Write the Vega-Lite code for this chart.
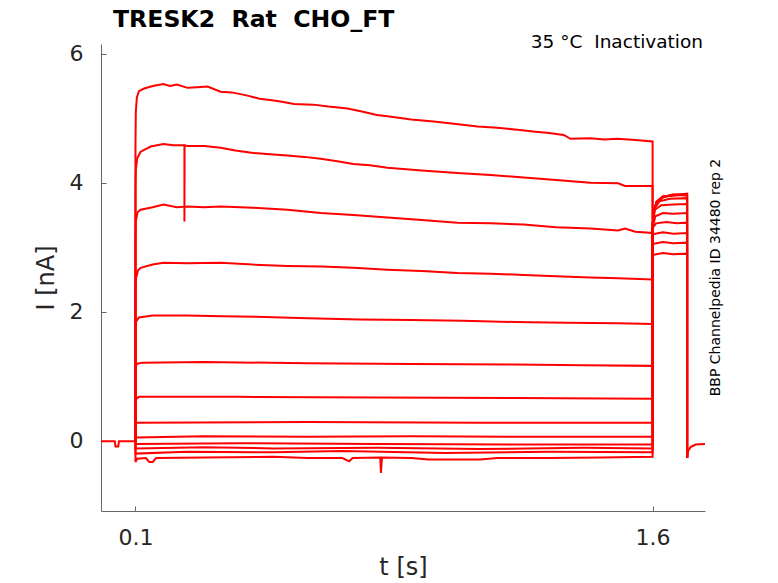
{
"$schema":"https://vega.github.io/schema/vega-lite/v6.json",
"width":604,"height":467,
"autosize":{"type":"none"},
"padding":{"left":101,"top":44,"right":73,"bottom":72},
"background":"white",
"title":{"text":"TRESK2\u00a0\u00a0Rat\u00a0\u00a0CHO_FT","anchor":"start","frame":"group","dx":12,"dy":13,"offset":14,"fontSize":23.6,"font":"DejaVu Sans","fontWeight":"bold","color":"black"},
"config":{"view":{"stroke":null},"axis":{"grid":false,"domainColor":"#666666","tickColor":"#666666","labelColor":"#262626","titleColor":"#262626","labelFont":"DejaVu Sans","titleFont":"DejaVu Sans","titleFontWeight":"normal","labelFontSize":22,"titleFontSize":24,"tickSize":-5}},
"layer":[
{"data":{"values":[
{"k":"pre","t":0,"i":-0.01},{"k":"pre","t":0.04,"i":-0.01},{"k":"pre","t":0.042,"i":-0.09},{"k":"pre","t":0.05,"i":-0.09},{"k":"pre","t":0.052,"i":-0.01},{"k":"pre","t":0.1,"i":-0.01},
{"k":"post","t":1.7,"i":-0.27},{"k":"post","t":1.703,"i":-0.16},{"k":"post","t":1.71,"i":-0.1},{"k":"post","t":1.725,"i":-0.06},{"k":"post","t":1.752,"i":-0.05},
{"k":"1","t":0.1,"i":-0.01},{"k":"1","t":0.1,"i":4.6},{"k":"1","t":0.101,"i":5.1},{"k":"1","t":0.104,"i":5.32},{"k":"1","t":0.11,"i":5.42},{"k":"1","t":0.125,"i":5.46},{"k":"1","t":0.15,"i":5.5},{"k":"1","t":0.181,"i":5.53},{"k":"1","t":0.2,"i":5.5},{"k":"1","t":0.22,"i":5.52},{"k":"1","t":0.251,"i":5.47},{"k":"1","t":0.28,"i":5.48},{"k":"1","t":0.309,"i":5.49},{"k":"1","t":0.347,"i":5.41},{"k":"1","t":0.38,"i":5.4},{"k":"1","t":0.425,"i":5.35},{"k":"1","t":0.46,"i":5.3},{"k":"1","t":0.49,"i":5.28},{"k":"1","t":0.521,"i":5.26},{"k":"1","t":0.56,"i":5.22},{"k":"1","t":0.616,"i":5.21},{"k":"1","t":0.66,"i":5.18},{"k":"1","t":0.715,"i":5.15},{"k":"1","t":0.76,"i":5.1},{"k":"1","t":0.8,"i":5.05},{"k":"1","t":0.831,"i":5.03},{"k":"1","t":0.9,"i":4.98},{"k":"1","t":0.965,"i":4.95},{"k":"1","t":1.03,"i":4.91},{"k":"1","t":1.092,"i":4.87},{"k":"1","t":1.15,"i":4.85},{"k":"1","t":1.208,"i":4.82},{"k":"1","t":1.26,"i":4.79},{"k":"1","t":1.3,"i":4.77},{"k":"1","t":1.342,"i":4.74},{"k":"1","t":1.362,"i":4.68},{"k":"1","t":1.42,"i":4.69},{"k":"1","t":1.46,"i":4.67},{"k":"1","t":1.498,"i":4.68},{"k":"1","t":1.55,"i":4.66},{"k":"1","t":1.6,"i":4.64},{"k":"1","t":1.6,"i":2.88},{"k":"1","t":1.63,"i":2.91},{"k":"1","t":1.66,"i":2.89},{"k":"1","t":1.7,"i":2.9},{"k":"1","t":1.7,"i":-0.27},
{"k":"2","t":0.1,"i":-0.01},{"k":"2","t":0.1,"i":3.9},{"k":"2","t":0.101,"i":4.2},{"k":"2","t":0.105,"i":4.38},{"k":"2","t":0.115,"i":4.48},{"k":"2","t":0.144,"i":4.56},{"k":"2","t":0.181,"i":4.6},{"k":"2","t":0.21,"i":4.58},{"k":"2","t":0.242,"i":4.58},{"k":"2","t":0.242,"i":3.4},{"k":"2","t":0.2425,"i":4.58},{"k":"2","t":0.251,"i":4.57},{"k":"2","t":0.3,"i":4.57},{"k":"2","t":0.347,"i":4.54},{"k":"2","t":0.39,"i":4.5},{"k":"2","t":0.442,"i":4.46},{"k":"2","t":0.49,"i":4.44},{"k":"2","t":0.541,"i":4.42},{"k":"2","t":0.59,"i":4.4},{"k":"2","t":0.637,"i":4.37},{"k":"2","t":0.69,"i":4.33},{"k":"2","t":0.732,"i":4.29},{"k":"2","t":0.78,"i":4.27},{"k":"2","t":0.831,"i":4.23},{"k":"2","t":0.93,"i":4.19},{"k":"2","t":1.034,"i":4.15},{"k":"2","t":1.13,"i":4.12},{"k":"2","t":1.226,"i":4.08},{"k":"2","t":1.32,"i":4.04},{"k":"2","t":1.42,"i":4.0},{"k":"2","t":1.5,"i":3.99},{"k":"2","t":1.52,"i":3.95},{"k":"2","t":1.6,"i":3.95},{"k":"2","t":1.6,"i":3.05},{"k":"2","t":1.63,"i":3.08},{"k":"2","t":1.66,"i":3.06},{"k":"2","t":1.7,"i":3.07},{"k":"2","t":1.7,"i":-0.27},
{"k":"3","t":0.1,"i":-0.01},{"k":"3","t":0.1,"i":3.1},{"k":"3","t":0.101,"i":3.4},{"k":"3","t":0.106,"i":3.54},{"k":"3","t":0.115,"i":3.58},{"k":"3","t":0.15,"i":3.62},{"k":"3","t":0.181,"i":3.66},{"k":"3","t":0.22,"i":3.62},{"k":"3","t":0.251,"i":3.63},{"k":"3","t":0.3,"i":3.62},{"k":"3","t":0.347,"i":3.63},{"k":"3","t":0.442,"i":3.61},{"k":"3","t":0.541,"i":3.58},{"k":"3","t":0.637,"i":3.53},{"k":"3","t":0.732,"i":3.5},{"k":"3","t":0.831,"i":3.46},{"k":"3","t":0.93,"i":3.42},{"k":"3","t":1.034,"i":3.38},{"k":"3","t":1.13,"i":3.37},{"k":"3","t":1.226,"i":3.35},{"k":"3","t":1.32,"i":3.31},{"k":"3","t":1.42,"i":3.29},{"k":"3","t":1.5,"i":3.26},{"k":"3","t":1.52,"i":3.29},{"k":"3","t":1.55,"i":3.24},{"k":"3","t":1.6,"i":3.22},{"k":"3","t":1.6,"i":3.2},{"k":"3","t":1.63,"i":3.23},{"k":"3","t":1.66,"i":3.21},{"k":"3","t":1.7,"i":3.22},{"k":"3","t":1.7,"i":-0.27},
{"k":"4","t":0.1,"i":-0.01},{"k":"4","t":0.1,"i":2.3},{"k":"4","t":0.101,"i":2.5},{"k":"4","t":0.107,"i":2.64},{"k":"4","t":0.115,"i":2.68},{"k":"4","t":0.15,"i":2.73},{"k":"4","t":0.181,"i":2.76},{"k":"4","t":0.25,"i":2.75},{"k":"4","t":0.347,"i":2.76},{"k":"4","t":0.44,"i":2.73},{"k":"4","t":0.541,"i":2.71},{"k":"4","t":0.64,"i":2.7},{"k":"4","t":0.732,"i":2.68},{"k":"4","t":0.831,"i":2.65},{"k":"4","t":0.93,"i":2.63},{"k":"4","t":1.034,"i":2.6},{"k":"4","t":1.13,"i":2.59},{"k":"4","t":1.226,"i":2.57},{"k":"4","t":1.32,"i":2.55},{"k":"4","t":1.42,"i":2.53},{"k":"4","t":1.5,"i":2.52},{"k":"4","t":1.6,"i":2.5},{"k":"4","t":1.6,"i":3.3},{"k":"4","t":1.61,"i":3.37},{"k":"4","t":1.64,"i":3.39},{"k":"4","t":1.67,"i":3.37},{"k":"4","t":1.7,"i":3.38},{"k":"4","t":1.7,"i":-0.27},
{"k":"5","t":0.1,"i":-0.01},{"k":"5","t":0.1,"i":1.7},{"k":"5","t":0.102,"i":1.85},{"k":"5","t":0.11,"i":1.91},{"k":"5","t":0.15,"i":1.94},{"k":"5","t":0.25,"i":1.94},{"k":"5","t":0.35,"i":1.93},{"k":"5","t":0.45,"i":1.92},{"k":"5","t":0.6,"i":1.9},{"k":"5","t":0.75,"i":1.88},{"k":"5","t":0.9,"i":1.87},{"k":"5","t":1.05,"i":1.86},{"k":"5","t":1.2,"i":1.84},{"k":"5","t":1.35,"i":1.83},{"k":"5","t":1.5,"i":1.82},{"k":"5","t":1.6,"i":1.81},{"k":"5","t":1.6,"i":3.3},{"k":"5","t":1.608,"i":3.48},{"k":"5","t":1.63,"i":3.53},{"k":"5","t":1.66,"i":3.52},{"k":"5","t":1.7,"i":3.53},{"k":"5","t":1.7,"i":-0.27},
{"k":"6","t":0.1,"i":-0.01},{"k":"6","t":0.1,"i":1.1},{"k":"6","t":0.103,"i":1.19},{"k":"6","t":0.12,"i":1.21},{"k":"6","t":0.3,"i":1.22},{"k":"6","t":0.6,"i":1.2},{"k":"6","t":0.9,"i":1.19},{"k":"6","t":1.2,"i":1.18},{"k":"6","t":1.4,"i":1.17},{"k":"6","t":1.6,"i":1.16},{"k":"6","t":1.6,"i":3.35},{"k":"6","t":1.607,"i":3.58},{"k":"6","t":1.625,"i":3.65},{"k":"6","t":1.66,"i":3.66},{"k":"6","t":1.7,"i":3.67},{"k":"6","t":1.7,"i":-0.27},
{"k":"7","t":0.1,"i":-0.01},{"k":"7","t":0.1,"i":0.64},{"k":"7","t":0.11,"i":0.68},{"k":"7","t":0.4,"i":0.68},{"k":"7","t":0.8,"i":0.67},{"k":"7","t":1.2,"i":0.66},{"k":"7","t":1.6,"i":0.65},{"k":"7","t":1.6,"i":3.35},{"k":"7","t":1.605,"i":3.6},{"k":"7","t":1.62,"i":3.71},{"k":"7","t":1.65,"i":3.75},{"k":"7","t":1.7,"i":3.76},{"k":"7","t":1.7,"i":-0.27},
{"k":"8","t":0.1,"i":-0.01},{"k":"8","t":0.1,"i":0.28},{"k":"8","t":0.6,"i":0.29},{"k":"8","t":1.1,"i":0.28},{"k":"8","t":1.6,"i":0.28},{"k":"8","t":1.6,"i":3.3},{"k":"8","t":1.603,"i":3.55},{"k":"8","t":1.612,"i":3.7},{"k":"8","t":1.63,"i":3.78},{"k":"8","t":1.66,"i":3.81},{"k":"8","t":1.7,"i":3.82},{"k":"8","t":1.7,"i":-0.27},
{"k":"9","t":0.1,"i":-0.01},{"k":"9","t":0.1,"i":0.05},{"k":"9","t":0.3,"i":0.07},{"k":"9","t":0.6,"i":0.06},{"k":"9","t":0.9,"i":0.07},{"k":"9","t":1.2,"i":0.06},{"k":"9","t":1.6,"i":0.06},{"k":"9","t":1.6,"i":3.3},{"k":"9","t":1.603,"i":3.56},{"k":"9","t":1.612,"i":3.71},{"k":"9","t":1.63,"i":3.79},{"k":"9","t":1.66,"i":3.8},{"k":"9","t":1.7,"i":3.81},{"k":"9","t":1.7,"i":-0.27},
{"k":"10","t":0.1,"i":-0.01},{"k":"10","t":0.1,"i":-0.05},{"k":"10","t":0.4,"i":-0.04},{"k":"10","t":0.8,"i":-0.05},{"k":"10","t":1.2,"i":-0.06},{"k":"10","t":1.6,"i":-0.06},{"k":"10","t":1.6,"i":3.3},{"k":"10","t":1.603,"i":3.54},{"k":"10","t":1.612,"i":3.69},{"k":"10","t":1.63,"i":3.77},{"k":"10","t":1.66,"i":3.82},{"k":"10","t":1.7,"i":3.8},{"k":"10","t":1.7,"i":-0.27},
{"k":"11","t":0.1,"i":-0.01},{"k":"11","t":0.1,"i":-0.12},{"k":"11","t":0.3,"i":-0.1},{"k":"11","t":0.5,"i":-0.12},{"k":"11","t":0.8,"i":-0.11},{"k":"11","t":1.1,"i":-0.13},{"k":"11","t":1.4,"i":-0.11},{"k":"11","t":1.6,"i":-0.12},{"k":"11","t":1.6,"i":3.3},{"k":"11","t":1.603,"i":3.55},{"k":"11","t":1.612,"i":3.7},{"k":"11","t":1.63,"i":3.78},{"k":"11","t":1.66,"i":3.8},{"k":"11","t":1.7,"i":3.83},{"k":"11","t":1.7,"i":-0.27},
{"k":"12","t":0.1,"i":-0.01},{"k":"12","t":0.1,"i":-0.2},{"k":"12","t":0.25,"i":-0.17},{"k":"12","t":0.5,"i":-0.18},{"k":"12","t":0.7,"i":-0.16},{"k":"12","t":1.0,"i":-0.19},{"k":"12","t":1.3,"i":-0.17},{"k":"12","t":1.6,"i":-0.18},{"k":"12","t":1.6,"i":3.3},{"k":"12","t":1.603,"i":3.55},{"k":"12","t":1.612,"i":3.7},{"k":"12","t":1.63,"i":3.78},{"k":"12","t":1.66,"i":3.81},{"k":"12","t":1.7,"i":3.82},{"k":"12","t":1.7,"i":-0.27},
{"k":"13","t":0.1,"i":-0.01},{"k":"13","t":0.1,"i":-0.33},{"k":"13","t":0.105,"i":-0.28},{"k":"13","t":0.13,"i":-0.27},{"k":"13","t":0.14,"i":-0.33},{"k":"13","t":0.15,"i":-0.33},{"k":"13","t":0.16,"i":-0.27},{"k":"13","t":0.3,"i":-0.26},{"k":"13","t":0.5,"i":-0.25},{"k":"13","t":0.6,"i":-0.27},{"k":"13","t":0.7,"i":-0.27},{"k":"13","t":0.72,"i":-0.32},{"k":"13","t":0.73,"i":-0.27},{"k":"13","t":0.81,"i":-0.26},{"k":"13","t":0.812,"i":-0.5},{"k":"13","t":0.815,"i":-0.26},{"k":"13","t":0.9,"i":-0.27},{"k":"13","t":0.95,"i":-0.29},{"k":"13","t":1.1,"i":-0.29},{"k":"13","t":1.15,"i":-0.27},{"k":"13","t":1.3,"i":-0.27},{"k":"13","t":1.45,"i":-0.26},{"k":"13","t":1.6,"i":-0.25},{"k":"13","t":1.6,"i":3.3},{"k":"13","t":1.603,"i":3.55},{"k":"13","t":1.612,"i":3.7},{"k":"13","t":1.63,"i":3.78},{"k":"13","t":1.66,"i":3.81},{"k":"13","t":1.7,"i":3.82},{"k":"13","t":1.7,"i":-0.27}
]},
"mark":{"type":"line","color":"#ff0000","strokeWidth":2,"clip":true},
"encoding":{
"x":{"field":"t","type":"quantitative","scale":{"domain":[0,1.752],"nice":false,"zero":false},"axis":{"values":[0.1,1.6],"format":".1f","title":"t [s]","labelPadding":21,"titlePadding":7,"labelFlush":false}},
"y":{"field":"i","type":"quantitative","scale":{"domain":[-1.09,6.15],"nice":false,"zero":false},"axis":{"values":[0,2,4,6],"format":"d","title":"I [nA]","labelPadding":23,"titlePadding":11}},
"detail":{"field":"k","type":"nominal"},
"order":{"value":null}}},
{"data":{"values":[{}]},"mark":{"type":"text","align":"right","baseline":"alphabetic","dx":-2,"dy":4,"fontSize":18.5,"font":"DejaVu Sans","color":"black"},
"encoding":{"x":{"datum":1.752,"type":"quantitative"},"y":{"datum":6.15,"type":"quantitative"},"text":{"value":"35 °C\u00a0\u00a0Inactivation"}}},
{"data":{"values":[{}]},"mark":{"type":"text","align":"center","baseline":"middle","angle":270,"dy":11,"fontSize":14,"font":"DejaVu Sans","color":"black"},
"encoding":{"x":{"datum":1.752,"type":"quantitative"},"y":{"datum":2.53,"type":"quantitative"},"text":{"value":"BBP Channelpedia ID 34480 rep 2"}}}
]
}
